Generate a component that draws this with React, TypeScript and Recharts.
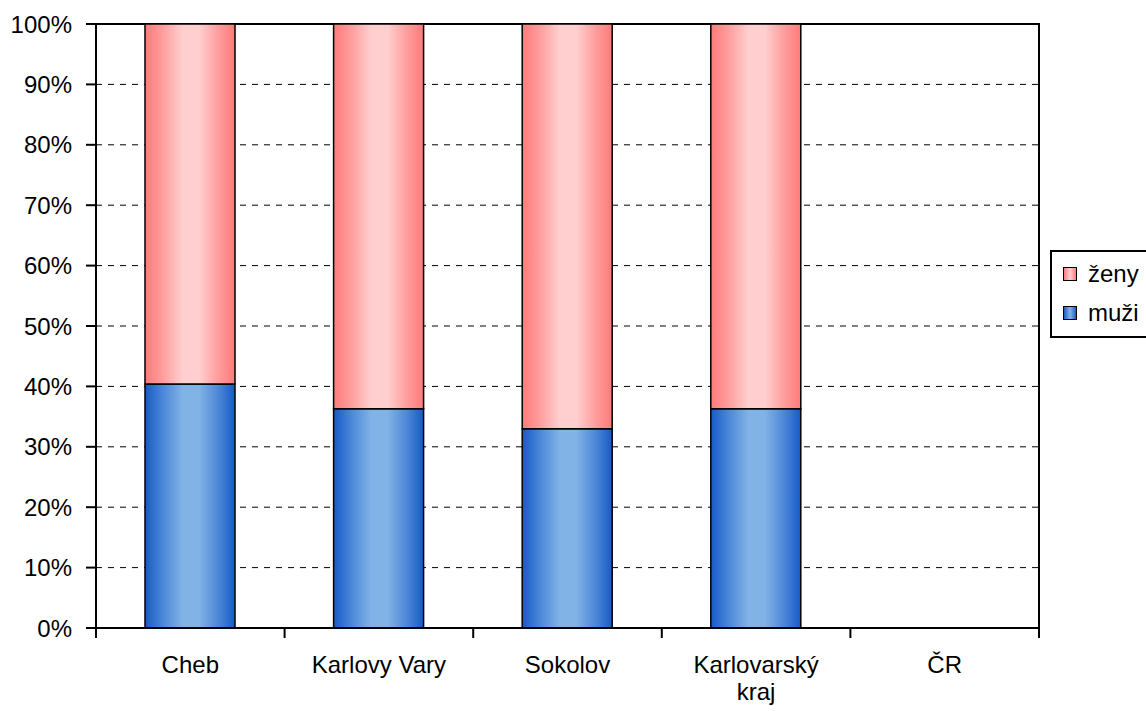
import React from "react";
import { BarChart, Bar, XAxis, YAxis, CartesianGrid, ReferenceArea } from "recharts";

const categories = ["Cheb", "Karlovy Vary", "Sokolov", "Karlovarský kraj", "ČR"];
const menValues: (number | null)[] = [40.4, 36.3, 33.0, 36.3, null];
const womenValues: (number | null)[] = [59.6, 63.7, 67.0, 63.7, null];
const yTicks = [0, 10, 20, 30, 40, 50, 60, 70, 80, 90, 100];
const seriesNames = { zeny: "ženy", muzi: "muži" };

const data = categories.map((c, i) => ({ name: c, muzi: menValues[i], zeny: womenValues[i] }));

const W = 1146;
const H = 711;
const PLOT_LEFT = 96;
const PLOT_RIGHT = 1039;
const PLOT_TOP = 24;
const PLOT_BOTTOM = 628;
const X_AXIS_H = 30;
const BAND = (PLOT_RIGHT - PLOT_LEFT) / categories.length;
const FONT = "'Liberation Sans', Arial, sans-serif";

const wrapLabel = (s: string): string[] => {
  if (s.length <= 14) return [s];
  const idx = s.lastIndexOf(" ");
  return idx > 0 ? [s.slice(0, idx), s.slice(idx + 1)] : [s];
};

const XTick = (props: any) => {
  const { x, y, payload, index } = props;
  const left = x - BAND / 2;
  const lines = wrapLabel(String(payload.value));
  return (
    <g>
      <line x1={left} x2={left} y1={y} y2={y + 10} stroke="#000" strokeWidth={2} />
      {index === categories.length - 1 && (
        <line x1={x + BAND / 2} x2={x + BAND / 2} y1={y} y2={y + 10} stroke="#000" strokeWidth={2} />
      )}
      <text x={x} y={y + 45} textAnchor="middle" fill="#000" fontSize={24} fontFamily={FONT}>
        {lines.map((l, i) => (
          <tspan key={i} x={x} dy={i === 0 ? 0 : 27}>
            {l}
          </tspan>
        ))}
      </text>
    </g>
  );
};

const LegendBox = () => (
  <div
    style={{
      position: "absolute",
      left: 1050,
      top: 250,
      width: 110,
      height: 88,
      border: "2px solid #000",
      boxSizing: "border-box",
      background: "#fff",
      fontFamily: FONT,
      fontSize: 24,
    }}
  >
    {[
      { name: seriesNames.zeny, grad: "linear-gradient(to right, #ff7a7a, #ffd0d0 50%, #ff7a7a)" },
      { name: seriesNames.muzi, grad: "linear-gradient(to right, #1a5cc9, #84b4e8 50%, #1a5cc9)" },
    ].map((it, i) => (
      <div
        key={it.name}
        style={{ position: "absolute", left: 11, top: i === 0 ? 5 : 44, height: 34, display: "flex", alignItems: "center" }}
      >
        <span
          style={{
            display: "inline-block",
            width: 14,
            height: 14,
            border: "1.5px solid #000",
            boxSizing: "border-box",
            background: it.grad,
            marginRight: 11,
          }}
        />
        <span style={{ lineHeight: "34px" }}>{it.name}</span>
      </div>
    ))}
  </div>
);

export default function App() {
  return (
    <div style={{ position: "absolute", left: 0, top: 0, width: W, height: H, background: "#fff" }}>
      <BarChart
        width={W}
        height={H}
        data={data}
        margin={{ top: PLOT_TOP, right: W - PLOT_RIGHT, bottom: H - PLOT_BOTTOM - X_AXIS_H, left: 0 }}
        barCategoryGap={0}
      >
        <defs>
          <linearGradient id="gradBlue" x1="0" y1="0" x2="1" y2="0">
            <stop offset="0%" stopColor="#165ac8" />
            <stop offset="20%" stopColor="#4b88d8" />
            <stop offset="42%" stopColor="#82b3e7" />
            <stop offset="60%" stopColor="#82b3e7" />
            <stop offset="82%" stopColor="#4b86d6" />
            <stop offset="100%" stopColor="#165ac8" />
          </linearGradient>
          <linearGradient id="gradPink" x1="0" y1="0" x2="1" y2="0">
            <stop offset="0%" stopColor="#ff7a7a" />
            <stop offset="20%" stopColor="#ff9e9e" />
            <stop offset="42%" stopColor="#ffcfcf" />
            <stop offset="60%" stopColor="#ffcfcf" />
            <stop offset="82%" stopColor="#ff9c9c" />
            <stop offset="100%" stopColor="#ff7a7a" />
          </linearGradient>
        </defs>
        <CartesianGrid vertical={false} stroke="#000" strokeDasharray="6 6" strokeWidth={1} />
        <XAxis
          dataKey="name"
          height={X_AXIS_H}
          axisLine={{ stroke: "#000", strokeWidth: 2 }}
          tickLine={false}
          tickSize={0}
          tickMargin={0}
          interval={0}
          tick={<XTick />}
        />
        <YAxis
          width={PLOT_LEFT}
          domain={[0, 100]}
          ticks={yTicks}
          interval={0}
          tickFormatter={(v: number) => `${v}%`}
          axisLine={{ stroke: "#000", strokeWidth: 2 }}
          tickLine={{ stroke: "#000", strokeWidth: 2 }}
          tickSize={10}
          tickMargin={14}
          tick={{ fill: "#000", fontSize: 24, fontFamily: FONT }}
        />
        <Bar dataKey="muzi" stackId="a" barSize={90} fill="url(#gradBlue)" stroke="#000" strokeWidth={1.5} isAnimationActive={false} name={seriesNames.muzi} />
        <Bar dataKey="zeny" stackId="a" barSize={90} fill="url(#gradPink)" stroke="#000" strokeWidth={1.5} isAnimationActive={false} name={seriesNames.zeny} />
        <ReferenceArea
          x1={categories[0]}
          x2={categories[categories.length - 1]}
          y1={0}
          y2={100}
          fill="none"
          fillOpacity={0}
          stroke="#000"
          strokeWidth={2}
          ifOverflow="visible"
        />
      </BarChart>
      <LegendBox />
    </div>
  );
}
